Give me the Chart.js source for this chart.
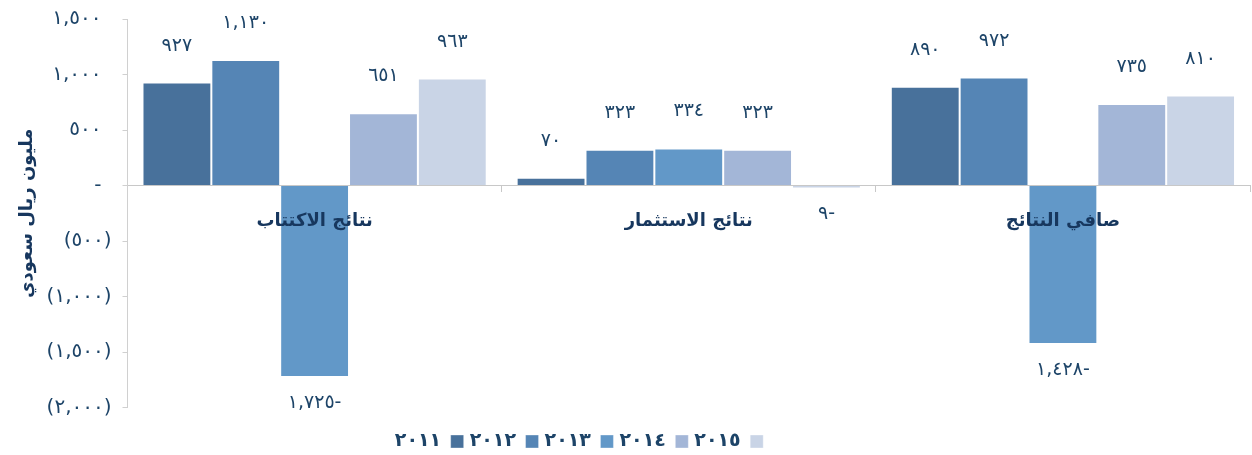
<!DOCTYPE html>
<html lang="ar">
<head>
<meta charset="utf-8">
<script src="https://cdn.jsdelivr.net/npm/chart.js@4/dist/chart.umd.min.js"></script>
<style>
    html, body { margin: 0; padding: 0; background: #ffffff; }
    #wrap { width: 1252px; height: 455px; }
</style>
</head>
<body>
<div id="wrap"><canvas id="chart" width="1252" height="455"></canvas></div>
<script>
// Chart data
const categories = ['نتائج الاكتتاب', 'نتائج الاستثمار', 'صافي النتائج'];
const years = ['٢٠١١', '٢٠١٢', '٢٠١٣', '٢٠١٤', '٢٠١٥'];
const values2011 = [927, 70, 890];
const values2012 = [1130, 323, 972];
const values2013 = [-1725, 334, -1428];
const values2014 = [651, 323, 735];
const values2015 = [963, -9, 810];
const yMin = -2000;
const yMax = 1500;
const yStep = 500;
const axisTitle = 'مليون ريال سعودي';

const seriesValues = [values2011, values2012, values2013, values2014, values2015];
const seriesColors = ['#48719b', '#5585b5', '#6298c8', '#a3b6d7', '#c9d4e6'];
const fontFamily = '"DejaVu Sans", sans-serif';
const textColor = '#1d4468';

// Convert a number to Arabic-Indic digits with thousands separator
function toArabicDigits(n) {
    const s = Math.abs(n).toLocaleString('en-US');
    return s.replace(/\d/g, d => '٠١٢٣٤٥٦٧٨٩'[d]);
}

// Accounting style tick: (x) for negatives, dash for zero
function tickLabel(v) {
    if (v === 0) return '-\u2002\u2009';
    if (v < 0) return '(' + toArabicDigits(v) + ')\u2009';
    return toArabicDigits(v) + '\u2002\u2009';
}

// Value labels above / below each bar
const barLabels = {
    id: 'barLabels',
    afterDatasetsDraw(chart) {
        const ctx = chart.ctx;
        ctx.save();
        ctx.font = '19px ' + fontFamily;
        ctx.fillStyle = textColor;
        ctx.textAlign = 'center';
        ctx.textBaseline = 'middle';
        chart.data.datasets.forEach((ds, i) => {
            chart.getDatasetMeta(i).data.forEach((bar, j) => {
                const v = ds.data[j];
                const text = toArabicDigits(v) + (v < 0 ? '-' : '');
                const y = v >= 0 ? bar.y - 37 : bar.y + 26;
                ctx.fillText(text, bar.x, y);
            });
        });
        ctx.restore();
    }
};

// Nudge the legend a bit left, as in the original
const legendShift = {
    id: 'legendShift',
    afterLayout(chart) {
        if (chart.legend) {
            chart.legend.left -= 54;
            chart.legend.right -= 54;
        }
    }
};

const ctx = document.getElementById('chart').getContext('2d');
new Chart(ctx, {
    type: 'bar',
    data: {
        labels: categories,
        datasets: years.map((year, i) => ({
            label: year,
            data: seriesValues[i],
            backgroundColor: seriesColors[i],
            borderColor: 'rgba(255,255,255,0.35)',
            borderWidth: 1,
            minBarLength: 3
        }))
    },
    options: {
        responsive: false,
        animation: false,
        categoryPercentage: 0.92,
        barPercentage: 1,
        layout: { padding: { top: 0, right: 2, left: 16, bottom: -6 } },
        plugins: {
            tooltip: { enabled: false },
            legend: {
                position: 'bottom',
                rtl: true,
                reverse: true,
                title: { display: true, text: ' ', font: { size: 2 }, padding: { top: 16, bottom: 0 } },
                labels: {
                    boxWidth: 13,
                    boxHeight: 13,
                    padding: 6,
                    color: textColor,
                    font: { family: fontFamily, size: 19, weight: 'bold' }
                }
            }
        },
        scales: {
            x: {
                position: { y: 0 },
                grid: { offset: true, drawOnChartArea: false, tickLength: 6, color: '#c8c8c8' },
                border: { color: '#c8c8c8' },
                ticks: {
                    z: 1,
                    color: '#17375e',
                    padding: 19,
                    font: { family: fontFamily, size: 18, weight: 'bold' }
                }
            },
            y: {
                min: yMin,
                max: yMax,
                grid: { drawOnChartArea: false, tickLength: 5, color: '#d0d0d0' },
                border: { color: '#d0d0d0' },
                ticks: {
                    stepSize: yStep,
                    color: textColor,
                    padding: 7,
                    font: { family: fontFamily, size: 20 },
                    callback: tickLabel
                },
                title: {
                    display: true,
                    text: axisTitle,
                    color: '#17375e',
                    padding: 1,
                    font: { family: fontFamily, size: 18, weight: 'bold' }
                }
            }
        }
    },
    plugins: [barLabels, legendShift]
});
</script>
</body>
</html>
